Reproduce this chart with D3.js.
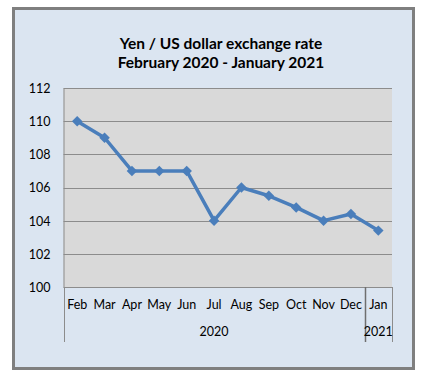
<!DOCTYPE html>
<html lang="en">
<head>
<meta charset="utf-8">
<title>Yen / US dollar</title>
<script src="https://cdn.jsdelivr.net/npm/d3@7"></script>
<style>
  body { margin: 0; background: #fff; }
  text { font-family: Lato, "Open Sans", sans-serif; fill: #000; }
  .title { font-size: 15.5px; font-weight: bold; }
  .tick text { font-size: 12.5px; }
</style>
</head>
<body>
<div id="chart"></div>
<script>
// data
var months = ["Feb", "Mar", "Apr", "May", "Jun", "Jul", "Aug", "Sep", "Oct", "Nov", "Dec", "Jan"];
var years = [{label: "2020", from: 0, to: 11}, {label: "2021", from: 11, to: 12}];
var rates = [110, 109, 107, 107, 107, 104, 106, 105.5, 104.8, 104, 104.4, 103.4];
var yTicks = [100, 102, 104, 106, 108, 110, 112];
var titleLines = ["Yen / US dollar  exchange rate", "February 2020 - January 2021"];

var w = 426, h = 382;
var plot = {left: 63.5, right: 392, top: 88, bottom: 287};

var svg = d3.select("#chart").append("svg")
  .attr("width", w).attr("height", h);

// outer chart box
svg.append("rect")
  .attr("x", 13.5).attr("y", 8.5)
  .attr("width", 400).attr("height", 360)
  .attr("fill", "#dbe5f1")
  .attr("stroke", "#7f7f7f")
  .attr("stroke-width", 3);

// title
svg.selectAll("text.title")
  .data(titleLines)
  .enter().append("text")
  .attr("class", "title")
  .attr("x", 221)
  .attr("y", (d, i) => 49 + i * 18.5)
  .attr("text-anchor", "middle")
  .text(d => d);

var x = d3.scaleBand()
  .domain(d3.range(months.length))
  .range([plot.left, plot.right]);

var y = d3.scaleLinear()
  .domain([100, 112])
  .range([plot.bottom, plot.top]);

// plot background
svg.append("rect")
  .attr("x", plot.left).attr("y", plot.top)
  .attr("width", plot.right - plot.left)
  .attr("height", plot.bottom - plot.top)
  .attr("fill", "#d9d9d9");

// gridlines
svg.append("g")
  .selectAll("line")
  .data(yTicks.filter(d => d > 100))
  .enter().append("line")
  .attr("x1", plot.left).attr("x2", plot.right)
  .attr("y1", d => Math.round(y(d)) + 0.5)
  .attr("y2", d => Math.round(y(d)) + 0.5)
  .attr("stroke", "#8c8c8c")
  .attr("stroke-width", 1);

// y axis
var yAxis = d3.axisLeft(y).tickValues(yTicks).tickSize(0).tickPadding(13);
var gy = svg.append("g")
  .attr("transform", "translate(" + plot.left + ",0)")
  .call(yAxis);
gy.select(".domain").attr("stroke", "#8c8c8c");
gy.selectAll(".tick text").attr("dy", "0.35em");

// x axis line
svg.append("line")
  .attr("x1", plot.left).attr("x2", plot.right)
  .attr("y1", plot.bottom + 0.5).attr("y2", plot.bottom + 0.5)
  .attr("stroke", "#8c8c8c");

// month labels
var xAxis = d3.axisBottom(x).tickFormat(i => months[i]).tickSize(0).tickPadding(13);
var gx = svg.append("g")
  .attr("transform", "translate(0," + plot.bottom + ")")
  .call(xAxis);
gx.select(".domain").remove();

// year group separators
var sepX = [0, 11, 12].map(i => i < months.length ? x(i) : plot.right);
svg.append("g")
  .selectAll("line")
  .data(sepX)
  .enter().append("line")
  .attr("x1", d => Math.round(d) + 0.5).attr("x2", d => Math.round(d) + 0.5)
  .attr("y1", plot.bottom).attr("y2", 342)
  .attr("stroke", (d, i) => i === 1 ? "#6f6f6f" : "#8c8c8c")
  .attr("stroke-width", (d, i) => i === 1 ? 1.5 : 1);

// year labels
svg.append("g")
  .selectAll("text")
  .data(years)
  .enter().append("text")
  .attr("x", d => (x(d.from) + (d.to < months.length ? x(d.to) : plot.right)) / 2)
  .attr("y", 336)
  .attr("text-anchor", "middle")
  .style("font-size", "12.5px")
  .text(d => d.label);

// line
var line = d3.line()
  .x((d, i) => x(i) + x.bandwidth() / 2)
  .y(d => y(d));

svg.append("path")
  .datum(rates)
  .attr("d", line)
  .attr("fill", "none")
  .attr("stroke", "#4a7ebb")
  .attr("stroke-width", 3.5)
  .attr("stroke-linejoin", "round");

svg.append("g")
  .selectAll("path")
  .data(rates)
  .enter().append("path")
  .attr("d", d3.symbol().type(d3.symbolDiamond2).size(70))
  .attr("transform", (d, i) => "translate(" + (x(i) + x.bandwidth() / 2) + "," + y(d) + ")")
  .attr("fill", "#4a7ebb");
</script>
</body>
</html>
